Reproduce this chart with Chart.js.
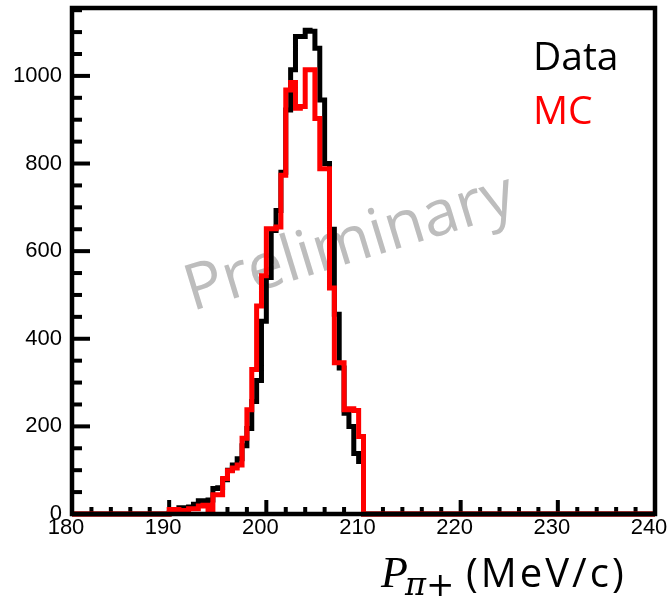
<!DOCTYPE html>
<html>
<head>
<meta charset="utf-8">
<title>P pi+ momentum, Data vs MC</title>
<script src="https://cdn.jsdelivr.net/npm/chart.js@4.4.1/dist/chart.umd.min.js"></script>
<style>
  html, body { margin: 0; padding: 0; background: #fff; }
  #wrap { width: 670px; height: 602px; }
</style>
</head>
<body>
<div id="wrap"><canvas id="pionChart"></canvas></div>
<script>
// histogram binning: 0.5 MeV/c bins from 180 to 240
const binStart = 180;
const binWidth = 0.5;

const xTicks = [180, 190, 200, 210, 220, 230, 240];
const yTicks = [0, 200, 400, 600, 800, 1000];

const dataLabel = 'Data';
const mcLabel = 'MC';

// entries per bin
const dataCounts = [
  0, 0, 0, 0, 0, 0, 0, 0, 0, 0,                 // 180 - 184.5
  0, 0, 0, 0, 0, 0, 0, 0, 0, 0,                 // 185 - 189.5
  2, 8, 14, 14, 16, 22, 30, 30, 32, 58,         // 190 - 194.5
  60, 78, 100, 112, 126, 156, 195, 257, 305, 440, // 195 - 199.5
  540, 647, 693, 780, 922, 1014, 1090, 1090, 1104, 1102, // 200 - 204.5
  1063, 945, 800, 650, 456, 333, 230, 200, 138, 120,     // 205 - 209.5
  0, 0, 0, 0, 0, 0, 0, 0, 0, 0,                 // 210 - 214.5
  0, 0, 0, 0, 0, 0, 0, 0, 0, 0,
  0, 0, 0, 0, 0, 0, 0, 0, 0, 0,
  0, 0, 0, 0, 0, 0, 0, 0, 0, 0,
  0, 0, 0, 0, 0, 0, 0, 0, 0, 0,
  0, 0, 0, 0, 0, 0, 0, 0, 0, 0                  // 235 - 239.5
];

const mcCounts = [
  0, 0, 0, 0, 0, 0, 0, 0, 0, 0,
  0, 0, 0, 0, 0, 0, 0, 0, 0, 0,
  10, 10, 8, 4, 12, 12, 18, 20, 2, 44,
  44, 81, 99, 105, 112, 173, 238, 330, 475, 544,
  651, 651, 655, 773, 968, 985, 926, 930, 1014, 1014,
  903, 788, 788, 516, 345, 345, 238, 240, 236, 177,
  0, 0, 0, 0, 0, 0, 0, 0, 0, 0,
  0, 0, 0, 0, 0, 0, 0, 0, 0, 0,
  0, 0, 0, 0, 0, 0, 0, 0, 0, 0,
  0, 0, 0, 0, 0, 0, 0, 0, 0, 0,
  0, 0, 0, 0, 0, 0, 0, 0, 0, 0,
  0, 0, 0, 0, 0, 0, 0, 0, 0, 0
];

// step points at the low edge of every bin, plus the closing edge
function toSteps(counts) {
  const pts = counts.map((c, i) => ({ x: binStart + i * binWidth, y: c }));
  pts.push({ x: binStart + counts.length * binWidth, y: counts[counts.length - 1] });
  return pts;
}

// ROOT-like frame, inward ticks, watermark, text legend and axis title
const rootStyle = {
  id: 'rootStyle',
  beforeDatasetsDraw(chart) {
    const { ctx, chartArea: a, scales: { x, y } } = chart;

    ctx.save();
    ctx.translate(350, 244);
    ctx.rotate(-17 * Math.PI / 180);
    ctx.fillStyle = '#bdbdbd';
    ctx.font = '64px "Open Sans"';
    ctx.textAlign = 'center';
    ctx.textBaseline = 'middle';
    ctx.fillText('Preliminary', 0, 0);
    ctx.restore();

    ctx.save();
    ctx.fillStyle = '#000';
    for (let v = 0; v <= y.max; v += 50) {
      const py = y.getPixelForValue(v);
      const len = v % 200 === 0 ? 18 : 10;
      ctx.fillRect(a.left, py - 2, len, 4);
    }
    for (let v = x.min; v <= x.max; v += 2) {
      const px = x.getPixelForValue(v);
      const len = v % 10 === 0 ? 14 : 7;
      ctx.fillRect(px - 2, a.bottom - len, 4, len);
    }
    ctx.restore();
  },
  afterDatasetsDraw(chart) {
    const { ctx, chartArea: a } = chart;
    ctx.save();
    ctx.strokeStyle = '#000';
    ctx.lineWidth = 4.5;
    ctx.strokeRect(a.left, a.top, a.right - a.left, a.bottom - a.top);

    const ds = chart.data.datasets;
    ctx.font = '39px "Open Sans"';
    ctx.textAlign = 'left';
    ctx.textBaseline = 'alphabetic';
    ctx.fillStyle = ds[0].borderColor;
    ctx.fillText(ds[0].label, 533, 70);
    ctx.fillStyle = ds[1].borderColor;
    ctx.fillText(ds[1].label, 533, 124);

    // axis title: P_{pi+} (MeV/c)
    ctx.fillStyle = '#000';
    ctx.font = 'italic 44px "Liberation Serif"';
    ctx.fillText('P', 381, 587);
    ctx.font = 'italic 32px "DejaVu Serif"';
    ctx.fillText('\u03c0', 405, 595);
    ctx.font = '34px "DejaVu Serif"';
    ctx.fillText('+', 426, 596);
    ctx.font = '40px "Open Sans"';
    ctx.letterSpacing = '3px';
    ctx.fillText('(MeV/c)', 466, 587);
    ctx.restore();
  }
};

const ctx = document.getElementById('pionChart').getContext('2d');
const pionChart = new Chart(ctx, {
  type: 'line',
  data: {
    datasets: [{
      label: dataLabel,
      data: toSteps(dataCounts),
      borderColor: '#000000',
      borderWidth: 5,
      stepped: true,
      pointRadius: 0,
      fill: false,
      clip: false,
      order: 2
    }, {
      label: mcLabel,
      data: toSteps(mcCounts),
      borderColor: '#ff0000',
      borderWidth: 5,
      stepped: true,
      pointRadius: 0,
      fill: false,
      clip: false,
      order: 1
    }]
  },
  options: {
    responsive: true,
    maintainAspectRatio: false,
    animation: false,
    layout: { padding: { top: 8, right: 15, bottom: 0, left: 0 } },
    plugins: {
      legend: { display: false },
      tooltip: { enabled: false }
    },
    scales: {
      x: {
        type: 'linear',
        min: 180,
        max: 240,
        afterBuildTicks: s => { s.ticks = xTicks.map(v => ({ value: v })); },
        afterFit: s => { s.height = 88; s.paddingLeft = 0; s.paddingRight = 0; },
        ticks: {
          color: '#000',
          font: { family: 'Liberation Sans', size: 22 },
          padding: 1,
          labelOffset: -6,
          maxRotation: 0,
          callback: v => String(v)
        },
        grid: { display: false, drawTicks: false },
        border: { display: false }
      },
      y: {
        min: 0,
        max: 1155,
        afterBuildTicks: s => { s.ticks = yTicks.map(v => ({ value: v })); },
        afterFit: s => { s.width = 72; s.paddingTop = 0; s.paddingBottom = 0; },
        ticks: {
          color: '#000',
          font: { family: 'Liberation Sans', size: 22 },
          padding: 10,
          callback: v => String(v)
        },
        grid: { display: false, drawTicks: false },
        border: { display: false }
      }
    }
  },
  plugins: [rootStyle]
});
</script>
</body>
</html>
